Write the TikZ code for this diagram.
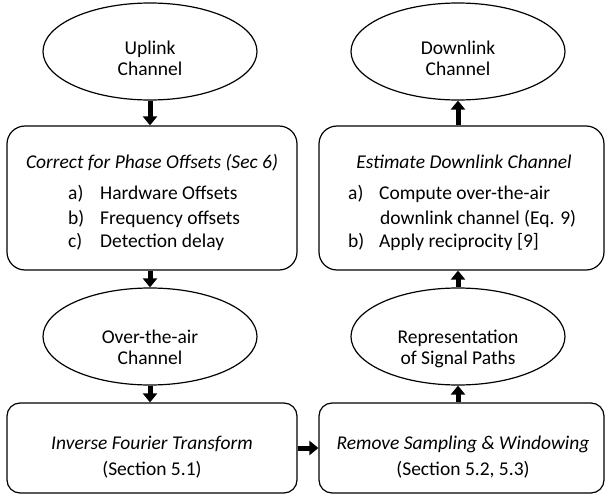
\documentclass[tikz,border=0pt]{standalone}
\usepackage{fontspec}
\setmainfont{Carlito}
\usetikzlibrary{arrows.meta,shapes.geometric}
\begin{document}
\begin{tikzpicture}[x=1pt,y=-1pt,
  font=\fontsize{19.5}{21}\selectfont,
  oval/.style={draw,line width=1.2pt,ellipse,minimum width=214pt,minimum height=97pt,inner sep=0pt},
  box/.style={draw,line width=1.2pt,rounded corners=#1,inner sep=0pt},
  flow/.style={line width=5pt,-{Triangle[width=14pt,length=9pt]}},
  txt/.style={inner sep=0pt,anchor=base},
  lbl/.style={inner sep=0pt,anchor=base west}
]
\useasboundingbox (0,0) rectangle (606,495);

% ellipses
\node[oval] (up) at (150,51.5) {};
\node[oval] (down) at (458,51.5) {};
\node[oval] (ota) at (150,336.5) {};
\node[oval] (rep) at (458,336.5) {};

% boxes
\node[box=18pt,minimum width=290pt,minimum height=144pt] (b1) at (152,198) {};
\node[box=18pt,minimum width=285pt,minimum height=144pt] (b2) at (461.5,198) {};
\node[box=13pt,minimum width=290pt,minimum height=90pt] (b3) at (152,448) {};
\node[box=13pt,minimum width=285pt,minimum height=90pt] (b4) at (461.5,448) {};

% ellipse texts
\node[txt] (upt1) at (150,55) {Uplink};
\node[txt] (upt2) at (150,76) {Channel};
\node[txt] (dnt1) at (458,55) {Downlink};
\node[txt] (dnt2) at (458,76) {Channel};
\node[txt] (otat1) at (150,343) {Over-the-air};
\node[txt] (otat2) at (150,364) {Channel};
\node[txt] (rept1) at (458,343) {Representation};
\node[txt] (rept2) at (458,364) {of Signal Paths};

% top-left box
\node[txt] (b1t) at (152,168) {\itshape Correct for Phase Offsets (Sec 6)};
\node[lbl] (b1a) at (68,200) {a)};
\node[lbl] (b1at) at (100,200) {Hardware Offsets};
\node[lbl] (b1b) at (68,224) {b)};
\node[lbl] (b1bt) at (100,224) {Frequency offsets};
\node[lbl] (b1c) at (68,247) {c)};
\node[lbl] (b1ct) at (100,247) {Detection delay};

% top-right box
\node[txt] (b2t) at (464,168) {\itshape Estimate Downlink Channel};
\node[lbl] (b2a) at (348,200) {a)};
\node[lbl] (b2at) at (379,200) {Compute over-the-air};
\node[lbl] (b2at2) at (380,224) {downlink channel (Eq. 9)};
\node[lbl] (b2b) at (348,247) {b)};
\node[lbl] (b2bt) at (379,247) {Apply reciprocity [9]};

% bottom boxes
\node[txt] (b3t) at (152,449) {\itshape Inverse Fourier Transform};
\node[txt] (b3s) at (152,475) {(Section 5.1)};
\node[txt] (b4t) at (463,449) {\itshape Remove Sampling \& Windowing};
\node[txt] (b4s) at (463,475) {(Section 5.2, 5.3)};

% arrows
\draw[flow] (up.south) -- (up.south |- b1.north);
\draw[flow] (up.south |- b1.south) -- (ota.north);
\draw[flow] (ota.south) -- (ota.south |- b3.north);
\draw[flow] (b3.east) -- (b4.west);
\draw[flow] (rep.south |- b4.north) -- (rep.south);
\draw[flow] (rep.north) -- (rep.north |- b2.south);
\draw[flow] (down.south |- b2.north) -- (down.south);
\end{tikzpicture}
\end{document}
